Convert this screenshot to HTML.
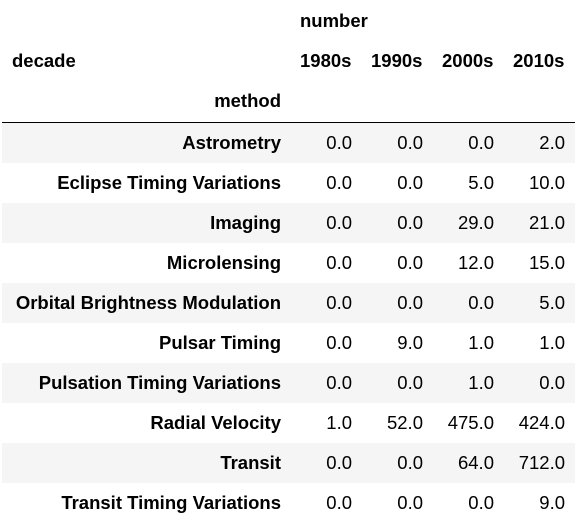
<!DOCTYPE html>
<html><head><meta charset="utf-8"><style>
body{margin:0;background:#fff;width:577px;height:523px;overflow:hidden;font-family:"Liberation Sans",Arial,sans-serif;font-size:18.5px;color:#000}
.t{position:absolute;line-height:22px;white-space:nowrap}
.b{font-weight:bold}
.r{text-align:right}
.row{position:absolute;left:2px;width:573px;height:40px}
</style></head><body>
<div class="t b" style="left:300px;top:10px">number</div>
<div class="t b" style="left:12px;top:50px">decade</div>
<div class="t b" style="left:300px;top:50px">1980s</div>
<div class="t b" style="left:371px;top:50px">1990s</div>
<div class="t b" style="left:442px;top:50px">2000s</div>
<div class="t b" style="left:513px;top:50px">2010s</div>
<div class="t b r" style="left:80px;width:201px;top:90px">method</div>
<div style="position:absolute;left:2px;top:122px;width:573px;height:1px;background:#000"></div>
<div id="body"></div>
<script>
const methods=["Astrometry","Eclipse Timing Variations","Imaging","Microlensing","Orbital Brightness Modulation","Pulsar Timing","Pulsation Timing Variations","Radial Velocity","Transit","Transit Timing Variations"];
const v1980=[0,0,0,0,0,0,0,1,0,0];
const v1990=[0,0,0,0,0,9,0,52,0,0];
const v2000=[0,5,29,12,0,1,1,475,64,0];
const v2010=[2,10,21,15,5,1,0,424,712,9];
const body=document.getElementById('body');
const rights=[352,423,494,565];
methods.forEach((m,i)=>{
  const top=123+i*40;
  const row=document.createElement('div');
  row.className='row';
  row.style.top=top+'px';
  row.style.background=i%2===0?'#f5f5f5':'#fff';
  
  
  body.appendChild(row);
  const lab=document.createElement('div');
  lab.className='t b r';
  lab.style.left='0px';lab.style.width='281px';lab.style.top=(top+9)+'px';
  lab.textContent=m;
  
  
  body.appendChild(lab);
  [v1980[i],v1990[i],v2000[i],v2010[i]].forEach((v,j)=>{
    const c=document.createElement('div');
    c.className='t r';
    c.style.left=(rights[j]-70)+'px';c.style.width='70px';c.style.top=(top+9)+'px';
    c.textContent=v.toFixed(1);
    
    
    body.appendChild(c);
  });
});
</script>
</body></html>
